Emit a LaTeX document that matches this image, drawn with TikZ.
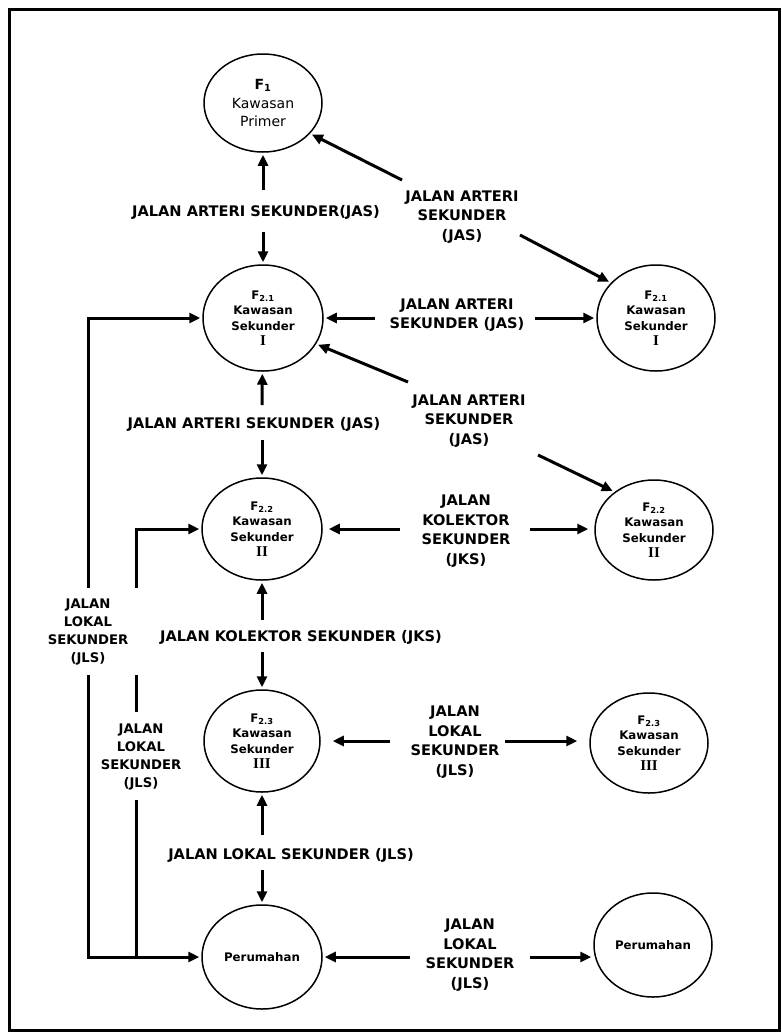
\documentclass[tikz,border=0pt]{standalone}
\usepackage{fontspec}
\setmainfont{DejaVu Sans}
\newfontfamily\romfont{Liberation Serif}
\usetikzlibrary{shapes.geometric,arrows.meta}
\tikzset{
  ell/.style={draw, ellipse, line width=1.5pt, inner sep=0pt, align=center},
  lab/.style={font=\bfseries\fontsize{14.6}{19.5}\selectfont, align=center, inner sep=0pt},
  slab/.style={font=\bfseries\fontsize{13.2}{18}\selectfont, align=center, inner sep=0pt},
  etext/.style={font=\bfseries\fontsize{11.8}{15.5}\selectfont},
  arr/.style={line width=3pt, -{Triangle[length=11pt,width=10pt]}, shorten >=2pt},
  ln/.style={line width=3pt}
}
\newcommand{\rn}[1]{{\romfont\bfseries\fontsize{15}{15.5}\selectfont #1}}
\begin{document}
\begin{tikzpicture}[x=1pt,y=-1pt]
\useasboundingbox (0,0) rectangle (782,1034);
\draw[line width=3pt] (9,9) rectangle (779,1030);
% ellipses
\node[ell, minimum width=118pt, minimum height=98pt, font=\fontsize{14}{18.5}\selectfont] (F1) at (263,103) {\textbf{F\textsubscript{1}}\\Kawasan\\Primer};
\node[ell, etext, minimum width=120pt, minimum height=106pt] (F21L) at (263,318) {F\textsubscript{2.1}\\Kawasan\\Sekunder\\\rn{I}};
\node[ell, etext, minimum width=118pt, minimum height=106pt] (F21R) at (656,318) {F\textsubscript{2.1}\\Kawasan\\Sekunder\\\rn{I}};
\node[ell, etext, minimum width=120pt, minimum height=102pt] (F22L) at (262,529) {F\textsubscript{2.2}\\Kawasan\\Sekunder\\\rn{II}};
\node[ell, etext, minimum width=118pt, minimum height=100pt] (F22R) at (654,530) {F\textsubscript{2.2}\\Kawasan\\Sekunder\\\rn{II}};
\node[ell, etext, minimum width=116pt, minimum height=102pt] (F23L) at (262,741) {F\textsubscript{2.3}\\Kawasan\\Sekunder\\\rn{III}};
\node[ell, etext, minimum width=118pt, minimum height=100pt] (F23R) at (649,743) {F\textsubscript{2.3}\\Kawasan\\Sekunder\\\rn{III}};
\node[ell, etext, minimum width=120pt, minimum height=104pt] (PL) at (262,957) {Perumahan};
\node[ell, etext, minimum width=118pt, minimum height=104pt] (PR) at (653,945) {Perumahan};
% labels
\node[lab] (V1) at (256,212) {JALAN ARTERI SEKUNDER(JAS)};
\node[lab] (D1) at (462,217) {JALAN ARTERI\\SEKUNDER\\(JAS)};
\node[lab] (H1) at (457,315) {JALAN ARTERI\\SEKUNDER (JAS)};
\node[lab] (D2) at (469,421) {JALAN ARTERI\\SEKUNDER\\(JAS)};
\node[lab] (V2) at (254,424) {JALAN ARTERI SEKUNDER (JAS)};
\node[lab] (H2) at (466,531) {JALAN\\KOLEKTOR\\SEKUNDER\\(JKS)};
\node[lab] (V3) at (301,637) {JALAN KOLEKTOR SEKUNDER (JKS)};
\node[lab] (H3) at (455,742) {JALAN\\LOKAL\\SEKUNDER\\(JLS)};
\node[lab] (V4) at (291,855) {JALAN LOKAL SEKUNDER (JLS)};
\node[lab] (H4) at (470,955) {JALAN\\LOKAL\\SEKUNDER\\(JLS)};
\node[slab] (L1) at (88,632) {JALAN\\LOKAL\\SEKUNDER\\(JLS)};
\node[slab] (L2) at (141,757) {JALAN\\LOKAL\\SEKUNDER\\(JLS)};
% free ends
\coordinate (v1t) at (263,190); \coordinate (v1b) at (263,232);
\coordinate (v2t) at (262,405); \coordinate (v2b) at (262,440);
\coordinate (v3t) at (262,620); \coordinate (v3b) at (262,652);
\coordinate (v4t) at (262,835); \coordinate (v4b) at (262,870);
\coordinate (h1l) at (375,318); \coordinate (h1r) at (535,318);
\coordinate (h2l) at (400,529); \coordinate (h2r) at (530,529);
\coordinate (h3l) at (390,741); \coordinate (h3r) at (505,741);
\coordinate (h4l) at (410,957); \coordinate (h4r) at (530,957);
\coordinate (d1a) at (402,180); \coordinate (d1b) at (520,235);
\coordinate (d2a) at (408,382); \coordinate (d2b) at (538,455);
\coordinate (o1) at (88,588); \coordinate (o2) at (88,675);
\coordinate (i0) at (136,588); \coordinate (i1) at (136,675);
\coordinate (i2) at (136,712); \coordinate (i3) at (136,800);
% vertical
\draw[arr] (v1t) -- (F1); \draw[arr] (v1b) -- (F21L);
\draw[arr] (v2t) -- (F21L); \draw[arr] (v2b) -- (F22L);
\draw[arr] (v3t) -- (F22L); \draw[arr] (v3b) -- (F23L);
\draw[arr] (v4t) -- (F23L); \draw[arr] (v4b) -- (PL);
% horizontal
\draw[arr] (h1l) -- (F21L); \draw[arr] (h1r) -- (F21R);
\draw[arr, shorten >=6pt] (h2l) -- (F22L); \draw[arr, shorten >=6pt] (h2r) -- (F22R.west |- h2r);
\draw[arr, shorten >=12pt] (h3l) -- (F23L); \draw[arr, shorten >=12pt] (h3r) -- (F23R.west |- h3r);
\draw[arr] (h4l) -- (PL); \draw[arr] (h4r) -- (PR.west |- h4r);
% diagonal
\draw[arr] (d1a) -- (F1.-33); \draw[arr] (d1b) -- (F21R.142);
\draw[arr] (d2a) -- (F21L.-26); \draw[arr] (d2b) -- (F22R.136);
% left feeders
\draw[arr] (o1) |- (F21L);
\draw[arr] (i0) |- (F22L);
\draw[ln] (i1) -- (i2);
\draw[arr] (o2) |- (PL);
\draw[ln] (i3) -- (i3 |- PL);
\end{tikzpicture}
\end{document}
